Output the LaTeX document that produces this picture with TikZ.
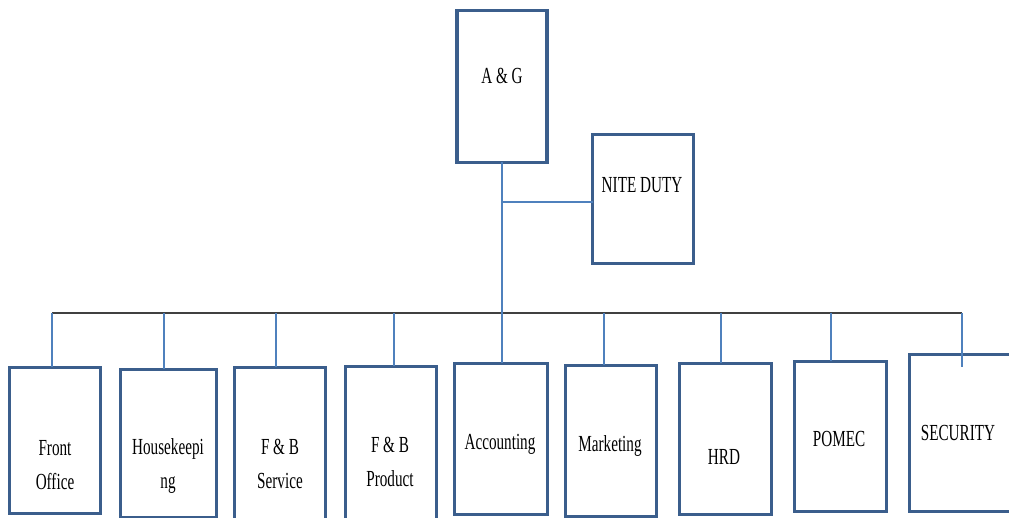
\documentclass[tikz,border=0pt]{standalone}
\usepackage{fontspec}
\newfontfamily\lblfont[FakeStretch=0.66]{Liberation Serif}
\definecolor{boxblue}{RGB}{59,94,140}
\definecolor{linkblue}{RGB}{79,129,189}
\definecolor{busgray}{RGB}{64,64,64}
\begin{document}
\begin{tikzpicture}[x=1pt,y=-1pt,
  orgbox/.style={draw=boxblue,line width=3.4pt,fill=white,rectangle,inner sep=0pt,outer sep=0pt,anchor=north west},
  lbl/.style={font=\lblfont\fontsize{23}{34}\selectfont,align=center,inner sep=0pt,text=black},
  link/.style={draw=linkblue,line width=1.2pt},
  bus/.style={draw=busgray,line width=2.8pt}]
\useasboundingbox (0,0) rectangle (1009,518);
\clip (0,0) rectangle (1009,518);
% connector points
\coordinate (bL) at (52,313);
\coordinate (bR) at (962,313);
\coordinate (tee) at (502,202);
\coordinate (d1) at (52,313);
\coordinate (d2) at (164,313);
\coordinate (d3) at (276,313);
\coordinate (d4) at (394,313);
\coordinate (d5) at (502,313);
\coordinate (d6) at (604,313);
\coordinate (d7) at (721,313);
\coordinate (d8) at (831,313);
\coordinate (d9) at (962,313);
% boxes
\node[orgbox,minimum width=90pt,minimum height=152pt] (ag) at (457,10.5) {};
\node[orgbox,minimum width=101pt,minimum height=129pt] (nite) at (592.5,134.5) {};
\node[orgbox,minimum width=91pt,minimum height=146pt] (fo) at (9.5,367.5) {};
\node[orgbox,minimum width=96pt,minimum height=148pt] (hk) at (120.5,369.5) {};
\node[orgbox,minimum width=91pt,minimum height=170pt] (fbs) at (234.5,367.5) {};
\node[orgbox,minimum width=91pt,minimum height=170pt] (fbp) at (345.5,366.5) {};
\node[orgbox,minimum width=93pt,minimum height=151pt] (acc) at (454.5,363.5) {};
\node[orgbox,minimum width=91pt,minimum height=151pt] (mkt) at (565.5,365.5) {};
\node[orgbox,minimum width=92pt,minimum height=151pt] (hrd) at (679.5,363.5) {};
\node[orgbox,minimum width=92pt,minimum height=150pt] (pomec) at (794.5,361.5) {};
\node[orgbox,minimum width=130pt,minimum height=157pt] (sec) at (909.5,354.5) {};
% connectors
\draw[bus] (bL) -- (bR);
\draw[link] (ag.south) -- (ag.south |- acc.north);
\draw[link] (tee) -- (nite.west |- tee);
\draw[link] (d1) -- (d1 |- fo.north);
\draw[link] (d2) -- (d2 |- hk.north);
\draw[link] (d3) -- (d3 |- fbs.north);
\draw[link] (d4) -- (d4 |- fbp.north);
\draw[link] (d6) -- (d6 |- mkt.north);
\draw[link] (d7) -- (d7 |- hrd.north);
\draw[link] (d8) -- (d8 |- pomec.north);
\coordinate (secend) at (962,367);
\draw[link] (d9) -- (secend);
% labels
\node[lbl] (tag) at (502,76) {A \& G};
\node[lbl] (tnite) at (642,185) {NITE DUTY};
\node[lbl] (tfo) at (55,465) {Front\\Office};
\node[lbl] (thk) at (168,466) {Housekeepi\\ng};
\node[lbl] (tfbs) at (280,464) {F \& B\\Service};
\node[lbl] (tfbp) at (390,462) {F \& B\\Product};
\node[lbl] (tacc) at (500,444) {Accounting};
\node[lbl] (tmkt) at (610,446) {Marketing};
\node[lbl] (thrd) at (724,457) {HRD};
\node[lbl] (tpomec) at (839,439) {POMEC};
\node[lbl] (tsec) at (958,433) {SECURITY};
\end{tikzpicture}
\end{document}
